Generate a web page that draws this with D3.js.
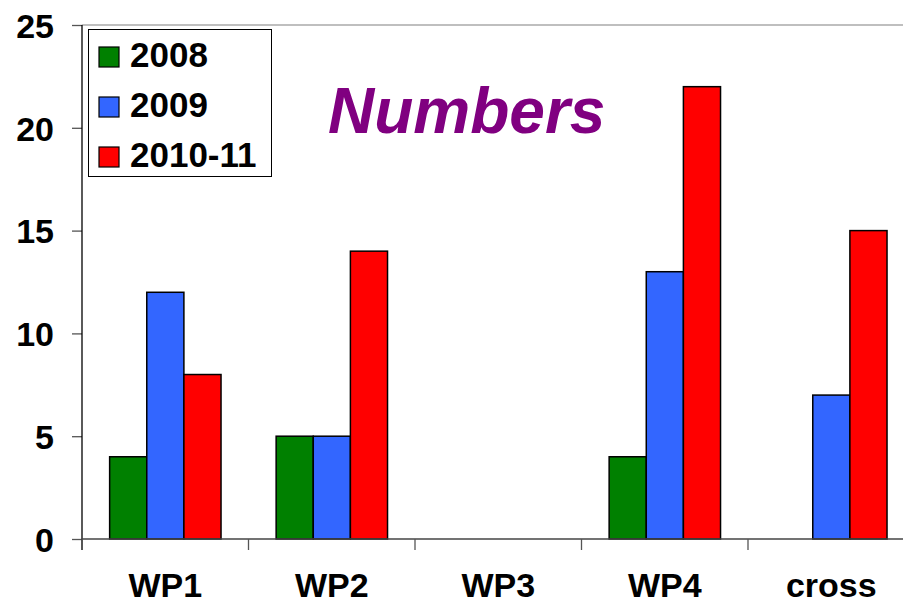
<!DOCTYPE html>
<html>
<head>
<meta charset="utf-8">
<script src="https://cdn.jsdelivr.net/npm/d3@7"></script>
<style>
html,body{margin:0;padding:0;background:#fff;}
svg{display:block;}
text{font-family:"Liberation Sans",Arial,sans-serif;font-weight:bold;}
</style>
</head>
<body>
<svg id="chart" width="903" height="605"></svg>
<script>
const categories = ["WP1", "WP2", "WP3", "WP4", "cross"];
const seriesNames = ["2008", "2009", "2010-11"];
const values2008 = [4, 5, 0, 4, 0];
const values2009 = [12, 5, 0, 13, 7];
const values2010 = [8, 14, 0, 22, 15];
const yTicks = [0, 5, 10, 15, 20, 25];
const colors = ["#008000", "#3366FF", "#FF0000"];
const chartTitle = "Numbers";

(function () {
const seriesValues = [values2008, values2009, values2010];

const svg = d3.select("#chart");
const plotLeft = 82, plotTop = 25, plotBottom = 539, catW = 166.5;
const plotRight = plotLeft + catW * categories.length;

const x0 = d3.scaleBand().domain(categories).range([plotLeft, plotRight]).padding(0);
const bw = x0.bandwidth();
const x1 = d3.scaleBand().domain(seriesNames).range([bw * 0.166, bw * 0.835]).padding(0);
const y = d3.scaleLinear().domain([0, 25]).range([plotBottom, plotTop]);

// top border line
svg.append("line").attr("x1", plotLeft).attr("x2", 903).attr("y1", y(25)).attr("y2", y(25))
  .attr("stroke", "#808080").attr("stroke-width", 1.2);

// bars
const rows = [];
categories.forEach((c, i) => {
  seriesNames.forEach((s, j) => {
    rows.push({cat: c, ser: s, v: seriesValues[j][i], color: colors[j]});
  });
});
svg.append("g").selectAll("rect").data(rows.filter(d => d.v > 0)).join("rect")
  .attr("x", d => x0(d.cat) + x1(d.ser))
  .attr("y", d => y(d.v))
  .attr("width", x1.bandwidth())
  .attr("height", d => y(0) - y(d.v))
  .attr("fill", d => d.color)
  .attr("stroke", "#000")
  .attr("stroke-width", 1.5);

// y axis
const yAxis = d3.axisLeft(y).tickValues(yTicks).tickSize(10).tickPadding(18).tickFormat(d3.format("d"));
const gy = svg.append("g").attr("transform", `translate(${plotLeft},0)`).call(yAxis);
gy.select(".domain").remove();
gy.selectAll(".tick line").attr("stroke", "#555").attr("stroke-width", 1.3);
gy.selectAll(".tick text").attr("font-size", 34).attr("fill", "#000")
  .attr("font-family", "Liberation Sans, Arial, sans-serif").attr("font-weight", "bold")
  .attr("dy", "0.36em");
svg.append("line").attr("x1", plotLeft).attr("x2", plotLeft).attr("y1", y(25)).attr("y2", plotBottom + 11)
  .attr("stroke", "#000").attr("stroke-width", 1.3);

// x axis
const xTickScale = d3.scaleLinear().domain([0, categories.length]).range([plotLeft, plotRight]);
svg.append("line").attr("x1", plotLeft).attr("x2", 903).attr("y1", plotBottom).attr("y2", plotBottom)
  .attr("stroke", "#444").attr("stroke-width", 1.3);
svg.append("g").selectAll("line").data(d3.range(categories.length + 1)).join("line")
  .attr("x1", d => xTickScale(d)).attr("x2", d => xTickScale(d))
  .attr("y1", plotBottom).attr("y2", plotBottom + 11)
  .attr("stroke", "#555").attr("stroke-width", 1.3);
svg.append("g").selectAll("text").data(categories).join("text")
  .attr("x", d => x0(d) + bw / 2)
  .attr("y", 597)
  .attr("text-anchor", "middle")
  .attr("font-size", 34)
  .attr("fill", "#000")
  .text(d => d);

// title
svg.append("text").attr("x", 328).attr("y", 133)
  .attr("font-size", 64).attr("font-style", "italic").attr("fill", "#800080")
  .text(chartTitle);

// legend
const lg = svg.append("g");
lg.append("rect").attr("x", 88.5).attr("y", 29.5).attr("width", 183).attr("height", 147)
  .attr("fill", "#fff").attr("stroke", "#000").attr("stroke-width", 1);
seriesNames.forEach((s, i) => {
  const yy = 47 + i * 50;
  lg.append("rect").attr("x", 99).attr("y", yy).attr("width", 20).attr("height", 20)
    .attr("fill", colors[i]).attr("stroke", "#000").attr("stroke-width", 1.2);
  lg.append("text").attr("x", 130).attr("y", yy + 20)
    .attr("font-size", 35).attr("fill", "#000").text(s);
});
})();
</script>
</body>
</html>
